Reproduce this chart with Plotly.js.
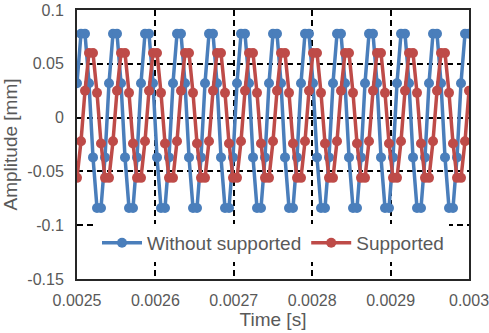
<!DOCTYPE html>
<html>
<head>
<meta charset="utf-8">
<script src="https://cdn.plot.ly/plotly-3.0.1.min.js"></script>
<style>html,body{margin:0;padding:0;background:#fff;}</style>
</head>
<body>
<div id="chart" style="width:489px;height:333px;"></div>
<script>
// Time samples [s]
var time = [
  0.00250000, 0.00250510, 0.00251020, 0.00251531, 0.00252041, 0.00252551, 0.00253061, 0.00253571,
  0.00254082, 0.00254592, 0.00255102, 0.00255612, 0.00256122, 0.00256633, 0.00257143, 0.00257653,
  0.00258163, 0.00258673, 0.00259184, 0.00259694, 0.00260204, 0.00260714, 0.00261224, 0.00261735,
  0.00262245, 0.00262755, 0.00263265, 0.00263776, 0.00264286, 0.00264796, 0.00265306, 0.00265816,
  0.00266327, 0.00266837, 0.00267347, 0.00267857, 0.00268367, 0.00268878, 0.00269388, 0.00269898,
  0.00270408, 0.00270918, 0.00271429, 0.00271939, 0.00272449, 0.00272959, 0.00273469, 0.00273980,
  0.00274490, 0.00275000, 0.00275510, 0.00276020, 0.00276531, 0.00277041, 0.00277551, 0.00278061,
  0.00278571, 0.00279082, 0.00279592, 0.00280102, 0.00280612, 0.00281122, 0.00281633, 0.00282143,
  0.00282653, 0.00283163, 0.00283673, 0.00284184, 0.00284694, 0.00285204, 0.00285714, 0.00286224,
  0.00286735, 0.00287245, 0.00287755, 0.00288265, 0.00288776, 0.00289286, 0.00289796, 0.00290306,
  0.00290816, 0.00291327, 0.00291837, 0.00292347, 0.00292857, 0.00293367, 0.00293878, 0.00294388,
  0.00294898, 0.00295408, 0.00295918, 0.00296429, 0.00296939, 0.00297449, 0.00297959, 0.00298469,
  0.00298980, 0.00299490, 0.00300000
];

// Amplitude [mm], without support
var withoutSupported = [
  0.032, 0.078, 0.078, 0.032, -0.037, -0.084, -0.084, -0.037,
  0.032, 0.078, 0.078, 0.032, -0.037, -0.084, -0.084, -0.037,
  0.032, 0.078, 0.078, 0.032, -0.037, -0.084, -0.084, -0.037,
  0.032, 0.078, 0.078, 0.032, -0.037, -0.084, -0.084, -0.037,
  0.032, 0.078, 0.078, 0.032, -0.037, -0.084, -0.084, -0.037,
  0.032, 0.078, 0.078, 0.032, -0.037, -0.084, -0.084, -0.037,
  0.032, 0.078, 0.078, 0.032, -0.037, -0.084, -0.084, -0.037,
  0.032, 0.078, 0.078, 0.032, -0.037, -0.084, -0.084, -0.037,
  0.032, 0.078, 0.078, 0.032, -0.037, -0.084, -0.084, -0.037,
  0.032, 0.078, 0.078, 0.032, -0.037, -0.084, -0.084, -0.037,
  0.032, 0.078, 0.078, 0.032, -0.037, -0.084, -0.084, -0.037,
  0.032, 0.078, 0.078, 0.032, -0.037, -0.084, -0.084, -0.037,
  0.032, 0.078, 0.078
];

// Amplitude [mm], supported
var supported = [
  -0.056, -0.022, 0.025, 0.060, 0.060, 0.023, -0.024, -0.056,
  -0.056, -0.022, 0.025, 0.060, 0.060, 0.023, -0.024, -0.056,
  -0.056, -0.022, 0.025, 0.060, 0.060, 0.023, -0.024, -0.056,
  -0.056, -0.022, 0.025, 0.060, 0.060, 0.023, -0.024, -0.056,
  -0.056, -0.022, 0.025, 0.060, 0.060, 0.023, -0.024, -0.056,
  -0.056, -0.022, 0.025, 0.060, 0.060, 0.023, -0.024, -0.056,
  -0.056, -0.022, 0.025, 0.060, 0.060, 0.023, -0.024, -0.056,
  -0.056, -0.022, 0.025, 0.060, 0.060, 0.023, -0.024, -0.056,
  -0.056, -0.022, 0.025, 0.060, 0.060, 0.023, -0.024, -0.056,
  -0.056, -0.022, 0.025, 0.060, 0.060, 0.023, -0.024, -0.056,
  -0.056, -0.022, 0.025, 0.060, 0.060, 0.023, -0.024, -0.056,
  -0.056, -0.022, 0.025, 0.060, 0.060, 0.023, -0.024, -0.056,
  -0.056, -0.022, 0.025
];

var seriesNames = ["Without supported", "Supported"];
var xTickVals = [0.0025, 0.0026, 0.0027, 0.0028, 0.0029, 0.003];
var xTickText = ["0.0025", "0.0026", "0.0027", "0.0028", "0.0029", "0.003"];
var yTickVals = [-0.15, -0.1, -0.05, 0, 0.05, 0.1];
var yTickText = ["-0.15", "-0.1", "-0.05", "0", "0.05", "0.1"];

var FONT = "Liberation Sans, Arial, sans-serif";
var TXT = "#595959";

var traces = [
  {
    x: time, y: withoutSupported, name: seriesNames[0],
    type: "scatter", mode: "lines+markers",
    line: {color: "#4A7EBB", width: 3.5},
    marker: {color: "#4A7EBB", size: 10, symbol: "circle"}
  },
  {
    x: time, y: supported, name: seriesNames[1],
    type: "scatter", mode: "lines+markers",
    line: {color: "#BE4B48", width: 3.5},
    marker: {color: "#BE4B48", size: 10, symbol: "circle"}
  }
];

var layout = {
  width: 489, height: 333,
  margin: {l: 77, r: 20, t: 10, b: 54},
  paper_bgcolor: "#ffffff", plot_bgcolor: "#ffffff",
  font: {family: FONT, color: TXT, size: 16},
  showlegend: true,
  legend: {
    orientation: "h", x: 0.5, xanchor: "center", y: 0.134, yanchor: "middle",
    bgcolor: "#ffffff", font: {family: FONT, color: TXT, size: 19},
    itemwidth: 40, tracegroupgap: 0
  },
  xaxis: {
    range: [0.0025, 0.003],
    tickmode: "array", tickvals: xTickVals, ticktext: xTickText,
    ticks: "", ticklabelstandoff: 6, ticklabeloverflow: "allow",
    tickfont: {family: FONT, color: TXT, size: 16},
    showgrid: true, gridcolor: "#000000", gridwidth: 2, griddash: "6px,4px",
    zeroline: false,
    showline: true, mirror: true, linecolor: "#262626", linewidth: 2,
    title: {text: "Time [s]", font: {family: FONT, color: TXT, size: 19}, standoff: 3}
  },
  yaxis: {
    range: [-0.15, 0.1],
    tickmode: "array", tickvals: yTickVals, ticktext: yTickText,
    ticks: "", ticklabelstandoff: 8,
    tickfont: {family: FONT, color: TXT, size: 16},
    showgrid: true, gridcolor: "#000000", gridwidth: 2, griddash: "6px,4px",
    zeroline: false,
    showline: true, mirror: true, linecolor: "#262626", linewidth: 2,
    title: {text: "Amplitude [mm]", font: {family: FONT, color: TXT, size: 19}, standoff: 6}
  }
};

Plotly.newPlot("chart", traces, layout, {staticPlot: true, displayModeBar: false});
</script>
</body>
</html>
